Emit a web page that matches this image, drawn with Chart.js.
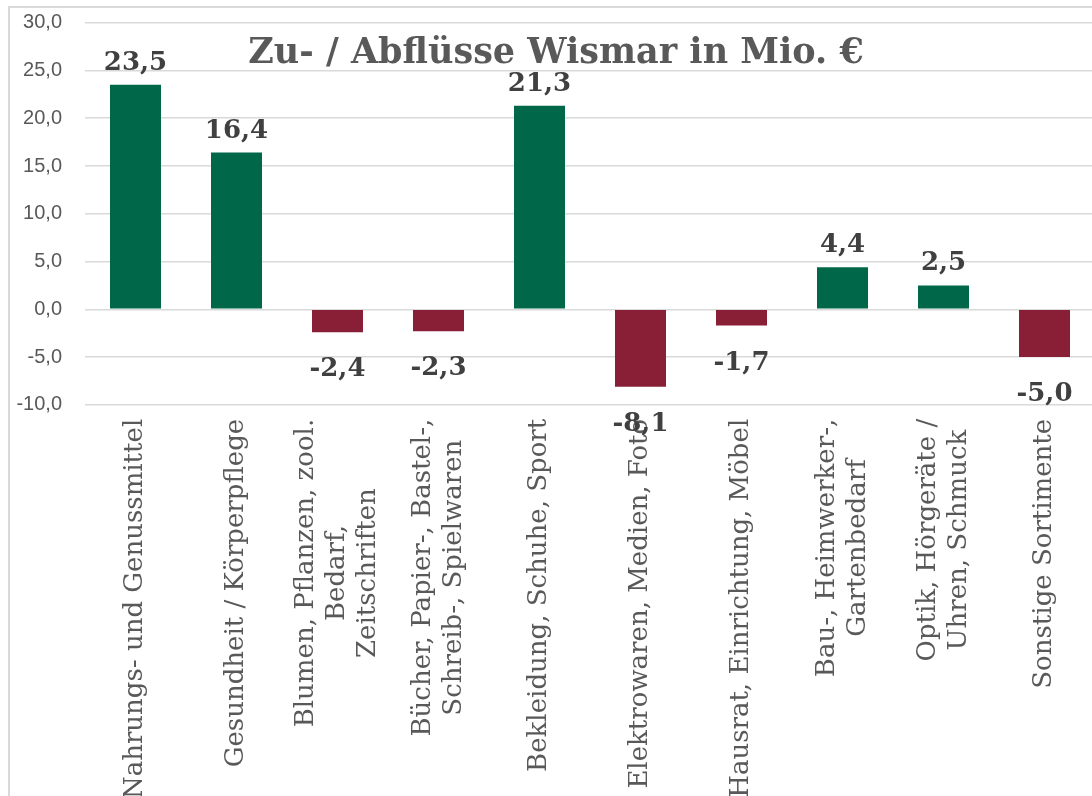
<!DOCTYPE html>
<html><head><meta charset="utf-8">
<script src="https://cdn.jsdelivr.net/npm/chart.js@4"></script>
<style>
html,body{margin:0;padding:0;background:#fff;overflow:hidden;width:1092px;height:796px;}
#frame{position:absolute;left:8px;top:6px;border-left:2px solid #d9d9d9;border-top:2px solid #d9d9d9;width:1090px;height:792px;}
canvas{display:block;}
</style></head><body>
<div id="frame"><canvas id="c" width="1085" height="790"></canvas></div>
<script>
const chartTitle = 'Zu- / Abflüsse Wismar in Mio. €';
const categories = [
  ['Nahrungs- und Genussmittel'],
  ['Gesundheit / Körperpflege'],
  ['Blumen, Pflanzen, zool.', 'Bedarf,', 'Zeitschriften'],
  ['Bücher, Papier-, Bastel-,', 'Schreib-, Spielwaren'],
  ['Bekleidung, Schuhe, Sport'],
  ['Elektrowaren, Medien, Foto'],
  ['Hausrat, Einrichtung, Möbel'],
  ['Bau-, Heimwerker-,', 'Gartenbedarf'],
  ['Optik, Hörgeräte /', 'Uhren, Schmuck'],
  ['Sonstige Sortimente']
];
const values = [23.5, 16.4, -2.4, -2.3, 21.3, -8.1, -1.7, 4.4, 2.5, -5.0];
const yTickValues = [-10, -5, 0, 5, 10, 15, 20, 25, 30];

const GREEN = '#006848', RED = '#891F36';
const fmt = v => Number(v).toFixed(1).replace('.', ',');

const labelsPlugin = {
  id: 'customText',
  afterDraw(chart) {
    const ctx = chart.ctx, xs = chart.scales.x, area = chart.chartArea;
    // title
    ctx.save();
    ctx.font = 'bold 35px "DejaVu Serif"';
    ctx.fillStyle = '#595959';
    ctx.textAlign = 'center';
    ctx.textBaseline = 'alphabetic';
    ctx.fillText(chartTitle, 546, 55);
    ctx.restore();
    // x labels
    ctx.save();
    ctx.font = '26px "DejaVu Serif"';
    ctx.fillStyle = '#595959';
    ctx.textAlign = 'center';
    ctx.textBaseline = 'middle';
    const lineH = 31;
    categories.forEach((lines, i) => {
      const px = xs.getPixelForTick(i);
      const maxW = Math.max(...lines.map(l => ctx.measureText(l).width));
      const n = lines.length;
      const top = area.bottom + 14;
      ctx.save();
      ctx.translate(px, top + maxW / 2);
      ctx.rotate(-Math.PI / 2);
      lines.forEach((l, j) => ctx.fillText(l, 0, (j - (n - 1) / 2) * lineH));
      ctx.restore();
    });
    ctx.restore();
    // data labels
    ctx.save();
    ctx.font = 'bold 26px "DejaVu Serif"';
    ctx.fillStyle = '#404040';
    ctx.textAlign = 'center';
    ctx.textBaseline = 'alphabetic';
    chart.getDatasetMeta(0).data.forEach((el, i) => {
      const v = values[i];
      if (v >= 0) ctx.fillText(fmt(v), el.x, el.y - 15);
      else ctx.fillText(fmt(v), el.x, el.y + 44);
    });
    ctx.restore();
  }
};

new Chart(document.getElementById('c'), {
  type: 'bar',
  data: {
    labels: categories,
    datasets: [{
      data: values,
      backgroundColor: ctx => (ctx.raw >= 0 ? GREEN : RED),
      borderWidth: 0,
      barPercentage: 0.505,
      categoryPercentage: 1.0
    }]
  },
  options: {
    responsive: false,
    animation: false,
    devicePixelRatio: 1,
    layout: { padding: { top: 14.7, left: 0, right: 0, bottom: 0 } },
    plugins: { legend: { display: false }, title: { display: false }, tooltip: { enabled: false } },
    scales: {
      x: {
        grid: { display: false },
        border: { display: false },
        ticks: { display: false },
        afterFit: s => { s.height = 393.2; }
      },
      y: {
        min: -10, max: 30,
        afterBuildTicks: s => { s.ticks = yTickValues.map(v => ({ value: v })); },
        afterFit: s => { s.width = 75; s.paddingTop = 0; s.paddingBottom = 0; },
        grid: { color: '#d9d9d9', lineWidth: 1.5, drawTicks: false },
        border: { display: false },
        ticks: {
          padding: 23,
          color: '#595959',
          font: { family: '"Liberation Sans", Arial, sans-serif', size: 20 },
          callback: v => fmt(v)
        }
      }
    }
  },
  plugins: [labelsPlugin]
});
</script>
</body></html>
